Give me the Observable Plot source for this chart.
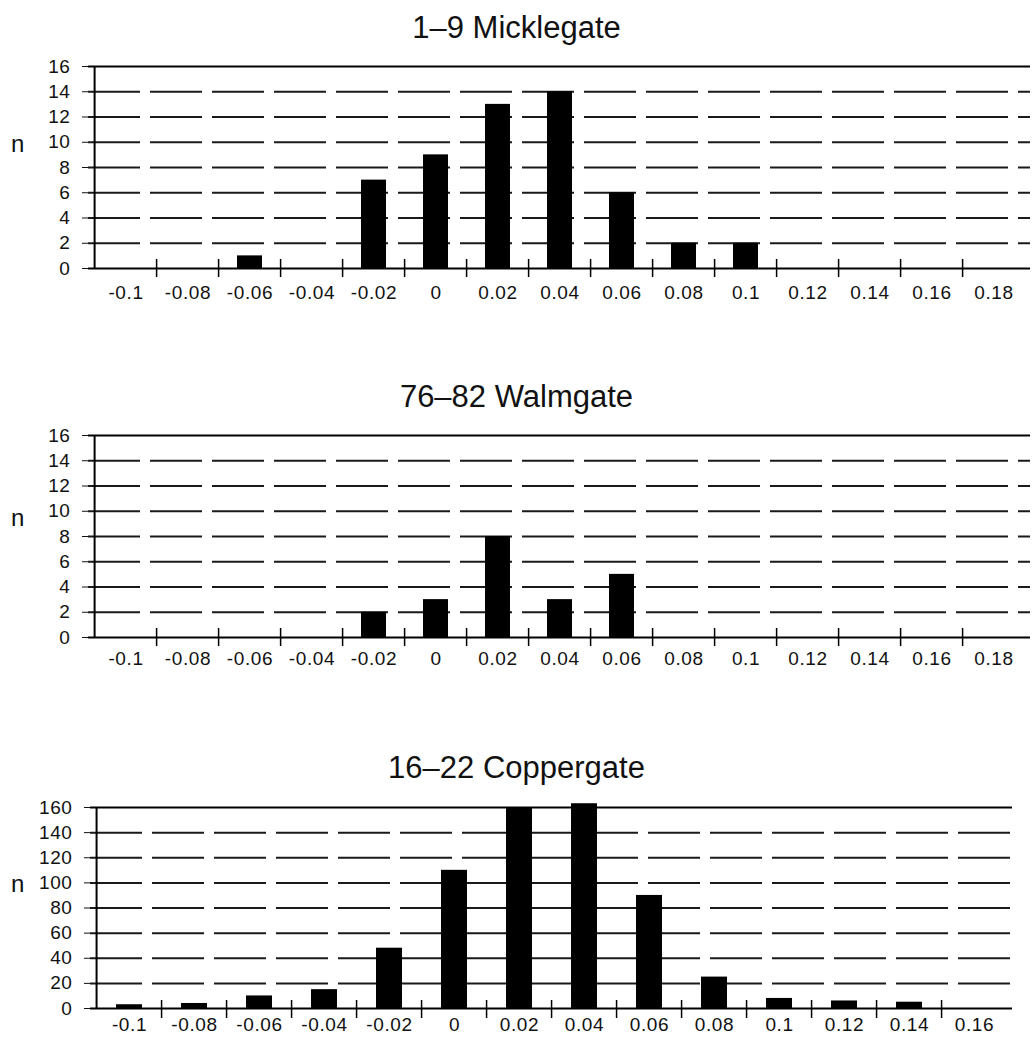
<!DOCTYPE html>
<html><head><meta charset="utf-8">
<script src="https://cdn.jsdelivr.net/npm/d3@7"></script>
<script src="https://cdn.jsdelivr.net/npm/@observablehq/plot@0.6"></script>
<style>
body{margin:0;background:#fff;font-family:"Liberation Sans",Arial,Helvetica,sans-serif;}
#root{position:relative;width:1033px;height:1042px;overflow:hidden;background:#fff;}
.title{position:absolute;left:0;width:1033px;text-align:center;font-size:31px;line-height:36px;color:#111;z-index:2;}
.nlab{position:absolute;left:11px;font-size:24px;line-height:30px;color:#111;z-index:2;}
.panel{position:absolute;left:0;z-index:1;}
svg.panel text{font-size:19px !important;letter-spacing:0.6px;fill:#111;}
</style></head><body><div id="root"></div>
<script>
// ---- data ----
const binsWide = ["-0.1","-0.08","-0.06","-0.04","-0.02","0","0.02","0.04","0.06","0.08","0.1","0.12","0.14","0.16","0.18"];
const micklegateN = [0,0,1,0,7,9,13,14,6,2,2,0,0,0,0];
const walmgateN   = [0,0,0,0,2,3,8,3,5,0,0,0,0,0,0];
const binsCopper  = ["-0.1","-0.08","-0.06","-0.04","-0.02","0","0.02","0.04","0.06","0.08","0.1","0.12","0.14","0.16"];
const coppergateN = [3,4,10,15,48,110,160,163,90,25,8,6,5,0];
const titles = ["1\u20139 Micklegate","76\u201382 Walmgate","16\u201322 Coppergate"];
const yTicksSmall = [0,2,4,6,8,10,12,14,16];
const yTicksLarge = [0,20,40,60,80,100,120,140,160];

const W = 1033;
const root = document.getElementById("root");

function panel(cfg){
  const {bins, values, yTicks, top, height, mL, mR, mT, mB, tickUp, tickDown, labelPad} = cfg;
  const yMax = yTicks[yTicks.length-1];
  const data = bins.map((b,i)=>({bin:b, n:values[i]}));
  const step = (W - mL - mR) / bins.length;
  const grid = yTicks.slice(1, -1);
  const svg = Plot.plot({
    width: W, height, marginLeft: mL, marginRight: mR, marginTop: mT, marginBottom: mB,
    style: {fontFamily: '"Liberation Sans", Arial, sans-serif', fontSize: "19px", color: "#111", background: "transparent"},
    x: {domain: bins, paddingInner: 0.6, paddingOuter: 0.3, label: null, tickSize: 0, tickPadding: labelPad},
    y: {domain: [0, yMax], ticks: yTicks, tickSize: 6, tickPadding: 12, label: null},
    marks: [
      Plot.ruleY(grid, {stroke: "#1a1a1a", strokeWidth: 2, strokeDasharray: "52,10"}),
      Plot.barY(data, {x: "bin", y: "n", fill: "#000"}),
      Plot.ruleY([0, yMax], {stroke: "#000", strokeWidth: 2}),
      Plot.ruleX([bins[0]], {dx: -step/2, stroke: "#000", strokeWidth: 2}),
      Plot.ruleX(bins.slice(1), {dx: -step/2, y1: 0, y2: 0, insetTop: -tickUp, insetBottom: -tickDown, stroke: "#000", strokeWidth: 1.5})
    ]
  });
  svg.setAttribute("class", (svg.getAttribute("class") || "") + " panel");
  svg.style.top = top + "px";
  root.appendChild(svg);
}

function text(cls, str, top){
  const d = document.createElement("div");
  d.className = cls; d.textContent = str; d.style.top = top + "px";
  root.appendChild(d);
}

panel({bins: binsWide, values: micklegateN, yTicks: yTicksSmall, top: 40, height: 273, mL: 88, mR: 3, mT: 26, mB: 45, tickUp: 9, tickDown: 9, labelPad: 17});
panel({bins: binsWide, values: walmgateN, yTicks: yTicksSmall, top: 410, height: 267, mL: 88, mR: 3, mT: 25, mB: 40, tickUp: 9, tickDown: 9, labelPad: 14});
panel({bins: binsCopper, values: coppergateN, yTicks: yTicksLarge, top: 780, height: 262, mL: 90, mR: 21, mT: 27, mB: 34, tickUp: 8, tickDown: 10, labelPad: 9});

text("title", titles[0], 10);
text("title", titles[1], 379);
text("title", titles[2], 750);
text("nlab", "n", 129);
text("nlab", "n", 503);
text("nlab", "n", 869);
</script></body></html>
